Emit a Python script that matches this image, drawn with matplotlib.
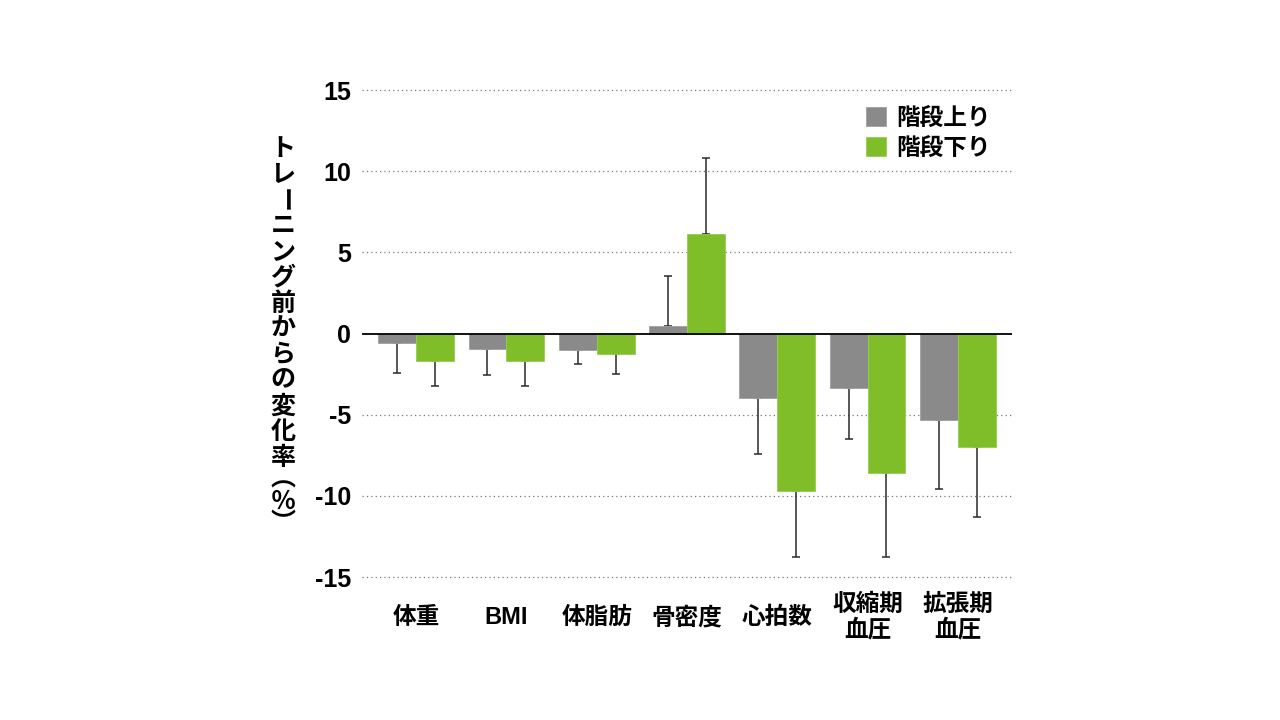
import matplotlib
matplotlib.use("Agg")
import matplotlib.pyplot as plt
import numpy as np

plt.rcParams['font.family'] = ['Liberation Sans', 'Noto Sans CJK JP', 'DejaVu Sans']

categories = ["体重", "BMI", "体脂肪", "骨密度", "心拍数", "収縮期\n血圧", "拡張期\n血圧"]
up_vals = [-0.6, -0.95, -1.02, 0.46, -3.96, -3.36, -5.3]
up_sd = [1.83, 1.6, 0.87, 3.1, 3.47, 3.15, 4.3]
down_vals = [-1.71, -1.71, -1.26, 6.11, -9.72, -8.57, -6.97]
down_sd = [1.52, 1.52, 1.24, 4.72, 4.05, 5.2, 4.3]
series_names = ["階段上り", "階段下り"]
yticks = [-15, -10, -5, 0, 5, 10, 15]
ylabel = "トレーニング前からの変化率（％）"

gray = "#8a8a8a"
green = "#7fbe28"

W, H = 1280, 720
fig = plt.figure(figsize=(W / 100, H / 100), dpi=100)
ax = fig.add_axes([0.2828, 0.176, 0.5078, 0.7214])

x = np.arange(len(categories))
w = 0.42


def one_sided(vals, sd):
    vals = np.array(vals)
    sd = np.array(sd)
    lower = np.where(vals < 0, sd, 0)
    upper = np.where(vals >= 0, sd, 0)
    return [lower, upper]


ax.bar(x - w / 2, up_vals, w, color=gray, edgecolor="#a0a0a0", linewidth=0.6,
       label=series_names[0], zorder=3)
ax.bar(x + w / 2, down_vals, w, color=green, edgecolor="#95cc50", linewidth=0.6,
       label=series_names[1], zorder=3)
ax.errorbar(x - w / 2, up_vals, yerr=one_sided(up_vals, up_sd), fmt="none",
            ecolor="#2a2a2a", elinewidth=1.1, capsize=3, capthick=1.1, zorder=2)
ax.errorbar(x + w / 2, down_vals, yerr=one_sided(down_vals, down_sd), fmt="none",
            ecolor="#2a2a2a", elinewidth=1.1, capsize=3, capthick=1.1, zorder=2)

ax.axhline(0, color="black", linewidth=1.3, zorder=4)
for t in yticks:
    if t != 0:
        ax.axhline(t, color="#777777", linewidth=0.9, linestyle=(0, (1, 2.5)), zorder=1)

ax.set_xlim(-0.6, len(categories) - 0.4)
ax.set_ylim(-16, 16)
ax.set_yticks(yticks)
ax.set_yticklabels([str(t) for t in yticks], fontsize=18, fontweight="bold")
ax.set_xticks(x)
ax.set_xticklabels(categories, fontsize=17, fontweight="bold", linespacing=1.15,
                   va="center")
ax.tick_params(length=0)
ax.tick_params(axis="y", pad=8)
ax.tick_params(axis="x", pad=17.5)
for s in ax.spines.values():
    s.set_visible(False)

# vertical (tategaki) axis title, one glyph per line
vert = {"（": "︵", "）": "︶"}
pos = 149.0
prev_adv = None
for ch in ylabel:
    adv = 18.0 if ch in vert else 25.75
    if prev_adv is not None:
        pos += (prev_adv + adv) / 2
    prev_adv = adv
    rot = -90 if ch == "ー" else 0
    fig.text(283 / W, 1 - pos / H, vert.get(ch, ch),
             ha="center", va="center", rotation=rot, rotation_mode="anchor",
             fontsize=18, fontweight="bold",
             family=['Noto Sans CJK JP', 'DejaVu Sans'])

leg = ax.legend(loc="upper left", bbox_to_anchor=(866 / W, 1 - 107 / H),
                bbox_transform=fig.transFigure, frameon=False,
                borderpad=0, borderaxespad=0,
                handlelength=0.85, handleheight=0.85, handletextpad=0.45,
                labelspacing=0.3, prop={"size": 17, "weight": "bold"})

fig.savefig("out.png", dpi=100)
